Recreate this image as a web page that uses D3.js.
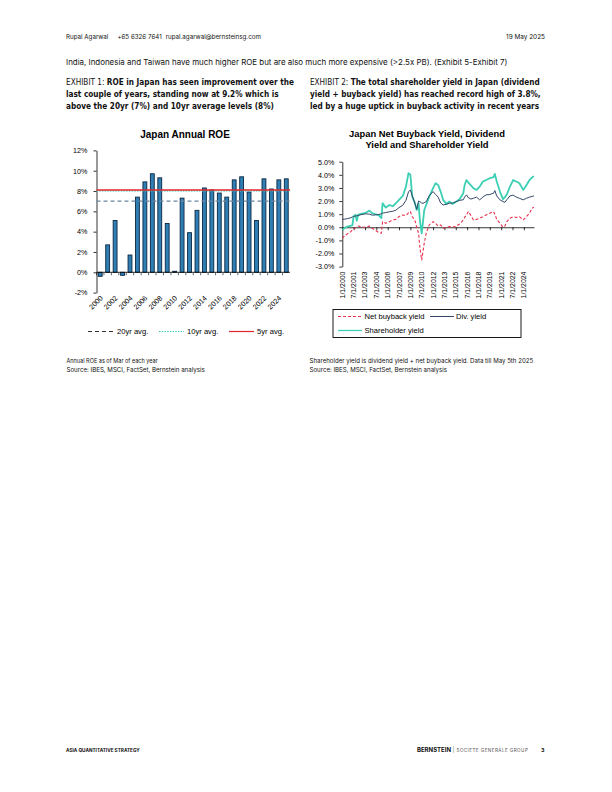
<!DOCTYPE html>
<html><head><meta charset="utf-8">
<script src="https://cdn.jsdelivr.net/npm/d3@7"></script>
<style>
html,body{margin:0;padding:0;background:#fff;}
svg{display:block;}
</style></head>
<body>
<script>
// ---------- Data ----------
const roeYears = [2000,2001,2002,2003,2004,2005,2006,2007,2008,2009,2010,2011,2012,2013,2014,2015,2016,2017,2018,2019,2020,2021,2022,2023,2024,2025];
const roeValues = [-0.4,2.7,5.1,-0.3,1.7,7.4,8.9,9.7,9.3,4.8,0.1,7.3,3.9,6.1,8.3,8.1,7.8,7.4,9.1,9.4,7.9,5.1,9.2,8.2,9.1,9.2];
const roeTicks = [-2,0,2,4,6,8,10,12];
const roeLabelYears = [2000,2002,2004,2006,2008,2010,2012,2014,2016,2018,2020,2022,2024];
const avgNames = ["20yr avg.","10yr avg.","5yr avg."];
const avgValues = [7.0, 8.0, 8.1];

const yieldDates = ["2000-01","2000-05","2000-09","2001-01","2001-05","2001-07","2001-10","2001-12","2002-02","2002-06",
 "2002-10","2003-03","2003-08","2004-01","2004-06","2004-11","2005-03","2005-05","2005-10","2006-04",
 "2006-09","2007-02","2007-07","2008-01","2008-06","2008-10","2009-01","2009-04","2009-08","2009-11",
 "2010-02","2010-04","2010-07","2010-09","2010-11","2011-02","2011-07","2012-01","2012-05","2012-09",
 "2013-01","2013-05","2013-10","2014-03","2014-08","2015-02","2015-07","2016-01","2016-03","2016-06",
 "2016-09","2017-01","2017-05","2017-10","2018-03","2018-08","2019-01","2019-07","2020-01","2020-03",
 "2020-06","2020-11","2021-04","2021-07","2021-10","2022-03","2022-08","2023-01","2023-06","2023-12",
 "2024-05","2024-10","2025-02","2025-05"];
const netBuyback = [-0.85,-0.65,-0.50,-0.40,-0.20,-0.10,-0.05,0.05,0.10,0.05,
 0.02,0.00,0.10,-0.10,-0.25,-0.40,-0.46,0.43,0.30,0.43,
 0.56,0.60,0.81,0.94,0.90,1.10,1.20,0.80,0.56,0.00,
 -0.46,-1.50,-2.50,-1.85,-1.20,-0.46,0.18,0.43,0.30,0.10,
 0.18,-0.08,0.00,0.05,0.00,0.10,0.25,0.56,0.75,0.94,
 1.20,0.90,0.56,0.60,0.69,0.80,0.94,1.07,1.20,1.00,
 0.60,0.30,0.00,0.10,0.43,0.69,0.81,0.75,0.81,0.56,
 0.80,1.07,1.45,1.53];
const divYield = [0.60,0.62,0.66,0.70,0.78,0.82,0.86,0.88,0.90,0.95,
 1.00,1.02,1.00,0.92,0.95,0.98,1.02,1.08,1.12,1.18,
 1.22,1.30,1.50,1.68,2.05,2.70,2.85,2.40,1.85,1.37,
 2.00,1.95,1.85,1.82,1.88,1.95,2.40,2.72,2.50,2.30,
 1.85,1.70,1.75,1.83,1.85,1.96,2.05,2.10,2.30,2.47,
 2.25,2.15,2.21,2.30,2.09,2.30,2.47,2.50,2.60,2.80,
 2.39,2.09,1.96,1.90,2.10,2.39,2.45,2.30,2.21,2.09,
 2.21,2.30,2.35,2.40];
const shYield = [-0.20,-0.05,0.05,0.10,0.15,0.85,0.95,0.50,0.95,1.02,
 1.05,1.12,1.27,1.05,0.99,0.90,0.70,1.83,1.50,1.70,
 1.60,1.83,2.09,2.39,3.10,4.12,4.00,2.34,1.88,1.32,
 1.83,0.60,-0.46,0.40,1.32,1.70,2.34,2.98,3.36,3.23,
 2.72,2.09,1.78,1.96,1.78,1.96,2.14,2.60,3.20,3.60,
 3.40,3.20,2.98,2.85,3.10,3.49,3.60,3.74,3.82,4.07,
 3.49,2.72,2.14,2.30,2.50,3.10,3.60,3.49,3.36,2.85,
 3.20,3.60,3.80,3.90];
const yieldTicks = [-3,-2,-1,0,1,2,3,4,5];
const yieldLabelDates = ["2000-01-01","2001-07-01","2003-01-01","2004-07-01","2006-01-01","2007-07-01","2009-01-01","2010-07-01","2012-01-01","2013-07-01","2015-01-01","2016-07-01","2018-01-01","2019-07-01","2021-01-01","2022-07-01","2024-01-01"];
const seriesNames = ["Net buyback yield","Div. yield","Shareholder yield"];

// ---------- SVG ----------
const W = 612, H = 792;
const svg = d3.select("body").append("svg").attr("width", W).attr("height", H);
svg.append("rect").attr("width", W).attr("height", H).attr("fill", "#fff");

const bodyFont = "Inter, 'Liberation Sans', Arial, sans-serif";
const chartFont = "'Liberation Sans', Arial, sans-serif";
const titleFont = "'DejaVu Sans Condensed', 'DejaVu Sans', 'Liberation Sans', sans-serif";

function fitText(x, y, str, width, opts = {}) {
  const size = opts.size || 7;
  const t = svg.append("text").attr("x", x).attr("y", y).attr("font-family", opts.font || bodyFont)
    .attr("font-size", size).attr("fill", opts.fill || "#111")
    .attr("font-weight", opts.weight || "normal").text(str);
  if (opts.ls) t.attr("letter-spacing", opts.ls);
  if (opts.anchor) t.attr("text-anchor", opts.anchor);
  const w = t.node().getComputedTextLength();
  if (w > 0) t.attr("font-size", size * width / w);
  return t;
}

// Header (one text, uniform size, gaps between parts)
{
  const size = 5.8;
  const t = svg.append("text").attr("x", 66).attr("y", 39).attr("font-family", bodyFont)
    .attr("font-size", size).attr("fill", "#111");
  t.append("tspan").text("Rupal Agarwal");
  t.append("tspan").attr("dx", 9).text("+65 6326 7641");
  t.append("tspan").attr("dx", 4).text("rupal.agarwal@bernsteinsg.com");
  const w = t.node().getComputedTextLength();
  if (w > 0) t.attr("font-size", size * 182 / w);
}
fitText(545, 39, "19 May 2025", 39, {size: 5.8, anchor: "end"});
fitText(66, 65, "India, Indonesia and Taiwan have much higher ROE but are also much more expensive (>2.5x PB). (Exhibit 5-Exhibit 7)", 442, {size: 7.6});

function exhibit(x, label, lines, targetWidth) {
  const g = svg.append("g");
  const t = g.append("text").attr("font-family", titleFont).attr("font-size", 9.0).attr("fill", "#111");
  lines.forEach((ln, i) => {
    if (i === 0) {
      t.append("tspan").attr("x", 0).attr("y", 85).attr("font-weight", "normal").text(label);
      t.append("tspan").attr("font-weight", "bold").text(ln);
    } else {
      t.append("tspan").attr("x", 0).attr("y", 85 + i * 12).attr("font-weight", "bold").text(ln);
    }
  });
  const w = t.node().getBBox().width;
  const sx = w > 0 ? targetWidth / w : 1;
  g.attr("transform", `translate(${x},0) scale(${sx},1)`);
}
exhibit(66, "EXHIBIT 1: ", ["ROE in Japan has seen improvement over the",
  "last couple of years, standing now at 9.2% which is",
  "above the 20yr (7%) and 10yr average levels (8%)"], 229);
exhibit(310, "EXHIBIT 2: ", ["The total shareholder yield in Japan (dividend",
  "yield + buyback yield) has reached record high of 3.8%,",
  "led by a huge uptick in buyback activity in recent years"], 231);

// ---------- Left chart: Japan Annual ROE ----------
const L = svg.append("g");
L.append("text").attr("x", 185).attr("y", 138).attr("text-anchor", "middle").attr("font-family", chartFont)
  .attr("font-weight", "bold").attr("font-size", 10).text("Japan Annual ROE");

const xB = d3.scaleBand().domain(roeYears).range([96.5, 290]).paddingInner(0.48).paddingOuter(0.24);
const yB = d3.scaleLinear().domain([-2, 12]).range([292.6, 150.4]);

const yAxL = d3.axisLeft(yB).tickValues(roeTicks).tickSize(3).tickSizeOuter(0).tickFormat(d => d + "%");
const gyL = L.append("g").attr("transform", "translate(96.5,0)").call(yAxL);
gyL.selectAll("text").attr("font-family", chartFont).attr("font-size", 7.2).attr("fill", "#000").attr("dx", -3);
gyL.selectAll("line,path").attr("stroke", "#000").attr("stroke-width", 0.8);

L.append("g").selectAll("rect").data(roeYears).join("rect")
  .attr("x", d => xB(d))
  .attr("width", xB.bandwidth())
  .attr("y", (d, i) => yB(Math.max(0, roeValues[i])))
  .attr("height", (d, i) => Math.abs(yB(roeValues[i]) - yB(0)))
  .attr("fill", "#2f7fb5").attr("stroke", "#0b2742").attr("stroke-width", 0.9);

const x0 = xB.range()[0], x1 = xB.range()[1];
L.append("line").attr("x1", x0).attr("x2", x1).attr("y1", yB(0)).attr("y2", yB(0)).attr("stroke", "#000").attr("stroke-width", 0.8);
L.append("g").selectAll("line").data(roeYears).join("line")
  .attr("x1", d => xB(d) - xB.step() * xB.paddingInner() / 2)
  .attr("x2", d => xB(d) - xB.step() * xB.paddingInner() / 2)
  .attr("y1", yB(0)).attr("y2", yB(0) + 3).attr("stroke", "#000").attr("stroke-width", 0.6);
L.append("g").selectAll("text").data(roeLabelYears).join("text")
  .attr("transform", d => `translate(${xB(d) + xB.bandwidth() / 2 + 3},${yB(-2) + 6}) rotate(-45)`)
  .attr("text-anchor", "end").attr("font-family", chartFont).attr("font-size", 7.2).text(d => d);

const avgStyles = [
  {stroke: "#6d87a3", dash: "4,3", width: 1.2},
  {stroke: "#35c8b0", dash: "1.5,1.2", width: 1.0},
  {stroke: "#e0262b", dash: null, width: 1.3}
];
avgValues.forEach((v, i) => {
  L.append("line").attr("x1", x0).attr("x2", x1).attr("y1", yB(v)).attr("y2", yB(v))
    .attr("stroke", avgStyles[i].stroke).attr("stroke-width", avgStyles[i].width)
    .attr("stroke-dasharray", avgStyles[i].dash);
});

const legL = [{x: 88, tx: 117}, {x: 159, tx: 187}, {x: 229, tx: 257}];
const legStroke = ["#333", "#35c8b0", "#e0262b"];
avgNames.forEach((n, i) => {
  L.append("line").attr("x1", legL[i].x).attr("x2", legL[i].x + 25).attr("y1", 331.5).attr("y2", 331.5)
    .attr("stroke", legStroke[i]).attr("stroke-width", i === 2 ? 1.2 : 1)
    .attr("stroke-dasharray", avgStyles[i].dash);
  L.append("text").attr("x", legL[i].tx).attr("y", 334).attr("font-family", chartFont).attr("font-size", 7.6).text(n);
});

// ---------- Right chart: yields ----------
const R = svg.append("g");
R.append("text").attr("x", 427).attr("y", 137).attr("text-anchor", "middle").attr("font-family", chartFont)
  .attr("font-weight", "bold").attr("font-size", 9.4).text("Japan Net Buyback Yield, Dividend");
R.append("text").attr("x", 427).attr("y", 147.5).attr("text-anchor", "middle").attr("font-family", chartFont)
  .attr("font-weight", "bold").attr("font-size", 9.4).text("Yield and Shareholder Yield");

const parseYM = d3.timeParse("%Y-%m");
const parseD = d3.timeParse("%Y-%m-%d");
const dates = yieldDates.map(parseYM);
const xT = d3.scaleTime().domain([parseD("2000-01-01"), parseD("2025-05-05")]).range([342.3, 534]);
const yT = d3.scaleLinear().domain([-3, 5]).range([266.6, 161.7]);

const yAxR = d3.axisLeft(yT).tickValues(yieldTicks).tickSize(3).tickSizeOuter(0).tickFormat(d => d.toFixed(1) + "%");
const gyR = R.append("g").attr("transform", "translate(342.3,0)").call(yAxR);
gyR.selectAll("text").attr("font-family", chartFont).attr("font-size", 7.2).attr("fill", "#000").attr("dx", -2);
gyR.selectAll("line,path").attr("stroke", "#000").attr("stroke-width", 0.8);

const labelDates = yieldLabelDates.map(parseD);
const gxR = R.append("g").attr("transform", `translate(0,${yT(0)})`)
  .call(d3.axisBottom(xT).tickValues(labelDates).tickSize(3).tickSizeOuter(0).tickFormat(""));
gxR.selectAll("line,path").attr("stroke", "#000").attr("stroke-width", 0.8);

R.append("g").selectAll("text").data(labelDates).join("text")
  .attr("transform", d => `translate(${xT(d) + 2.5},${yT(-3) + 5}) rotate(-90)`)
  .attr("text-anchor", "end").attr("font-family", chartFont).attr("font-size", 6.9)
  .text(d => `${d.getMonth() + 1}/${d.getDate()}/${d.getFullYear()}`);

const seriesVals = [netBuyback, divYield, shYield];
const seriesStyle = [
  {stroke: "#e8334f", width: 1.1, dash: "3,2"},
  {stroke: "#34476b", width: 1.0, dash: null},
  {stroke: "#3ccfb3", width: 1.8, dash: null}
];
const lineGen = d3.line().x(d => xT(d[0])).y(d => yT(d[1]));
[2, 1, 0].forEach(i => {
  R.append("path").datum(dates.map((d, j) => [d, seriesVals[i][j]]))
    .attr("d", lineGen).attr("fill", "none")
    .attr("stroke", seriesStyle[i].stroke).attr("stroke-width", seriesStyle[i].width)
    .attr("stroke-dasharray", seriesStyle[i].dash).attr("stroke-linejoin", "round");
});

R.append("rect").attr("x", 333).attr("y", 309.5).attr("width", 188).attr("height", 28)
  .attr("fill", "#fff").attr("stroke", "#000").attr("stroke-width", 0.9);
const legR = [{x: 338, y: 316.5, tx: 364.5}, {x: 430, y: 316.5, tx: 456}, {x: 338, y: 330.5, tx: 364.5}];
seriesNames.forEach((n, i) => {
  R.append("line").attr("x1", legR[i].x).attr("x2", legR[i].x + 24).attr("y1", legR[i].y).attr("y2", legR[i].y)
    .attr("stroke", seriesStyle[i].stroke).attr("stroke-width", i === 2 ? 1.3 : 1)
    .attr("stroke-dasharray", seriesStyle[i].dash);
  R.append("text").attr("x", legR[i].tx).attr("y", legR[i].y + 2.6).attr("font-family", chartFont).attr("font-size", 7.6).text(n);
});

// ---------- Footnotes ----------
fitText(66.5, 363, "Annual ROE as of Mar of each year", 91.5, {size: 5.5});
fitText(66.5, 372, "Source: IBES, MSCI, FactSet, Bernstein analysis", 138.5, {size: 5.5});
fitText(309.5, 363, "Shareholder yield is dividend yield + net buyback yield. Data till May 5th 2025", 224, {size: 5.5});
fitText(309.5, 372, "Source: IBES, MSCI, FactSet, Bernstein analysis", 137.5, {size: 5.5});

// ---------- Footer ----------
fitText(66, 751.5, "ASIA QUANTITATIVE STRATEGY", 74, {size: 4.8, weight: "bold"});
fitText(417, 752, "BERNSTEIN", 34, {size: 6.2, weight: "bold"});
svg.append("line").attr("x1", 453.5).attr("x2", 453.5).attr("y1", 746).attr("y2", 753).attr("stroke", "#999").attr("stroke-width", 0.5);
fitText(456.5, 752, "SOCIETE GENERALE GROUP", 71, {size: 5, fill: "#555", ls: 0.45});
fitText(541, 752, "3", 3.5, {size: 6, weight: "bold"});
</script>
</body></html>
